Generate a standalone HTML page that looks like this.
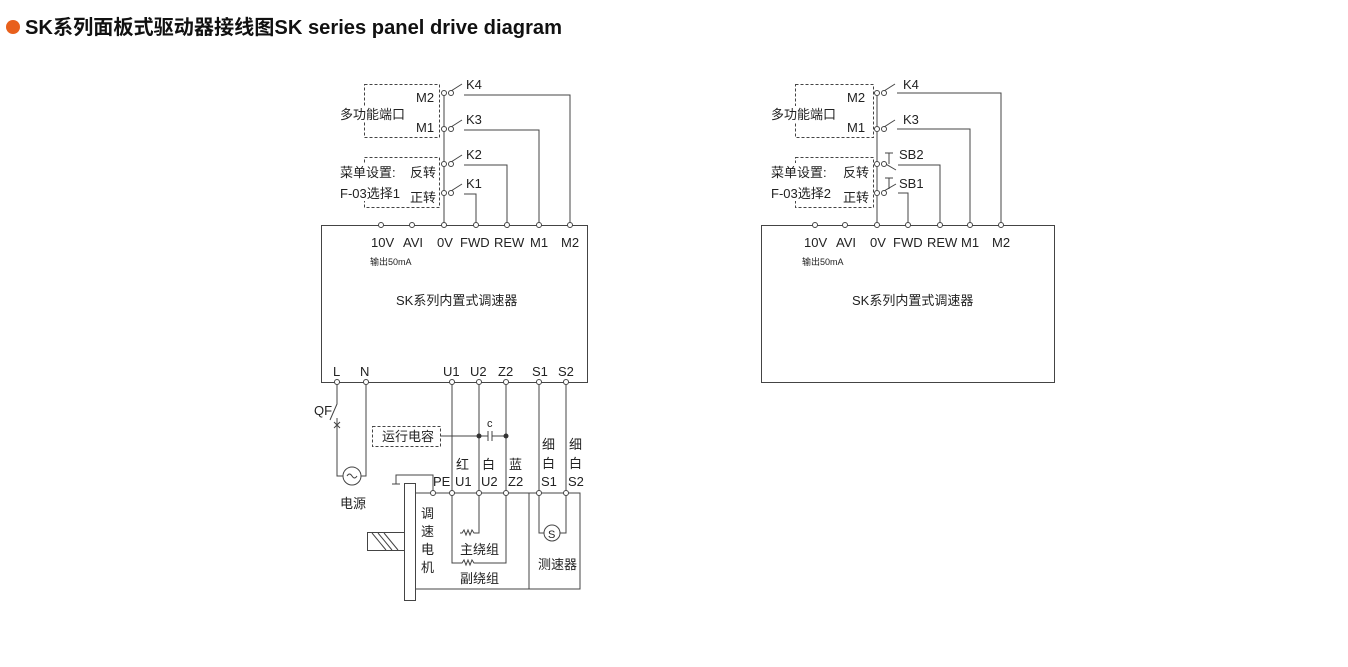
<!DOCTYPE html>
<html><head><meta charset="utf-8"><style>
html,body{margin:0;padding:0;background:#fff;width:1348px;height:667px;overflow:hidden}
svg{display:block}
text{font-family:"Liberation Sans","Noto Sans CJK SC",sans-serif;fill:#222}
.t{font-size:13px}
.s{font-size:9px}
</style></head><body>
<svg width="1348" height="667" viewBox="0 0 1348 667" xmlns="http://www.w3.org/2000/svg">
<circle cx="13" cy="27" r="7" fill="#e8601c"/>
<text x="25" y="34" font-size="20" font-weight="bold" textLength="537" lengthAdjust="spacingAndGlyphs" style="fill:#111">SK系列面板式驱动器接线图SK series panel drive diagram</text>

<g stroke="#444" stroke-width="1" fill="none">
<!-- LEFT -->
<rect x="321.5" y="225.5" width="266" height="157"/>
<path d="M444 225V93"/>
<rect x="364.5" y="84.5" width="75" height="53" stroke-dasharray="3,2"/>
<rect x="364.5" y="157.5" width="75" height="50" stroke-dasharray="3,2"/>
<!-- contacts -->
<path d="M451 91L462 84M464 95H570V225"/>
<path d="M451 127L462 120M464 130H539V225"/>
<path d="M451 162L462 155M464 165H507V225"/>
<path d="M451 191L462 184M464 194H476V225"/>
<!-- bottom -->
<path d="M337 382V404L330 420M337 418V476H343M366 382V476H361"/>
<path d="M334 422l6 6M340 422l-6 6"/>
<circle cx="352" cy="476" r="9"/>
<path d="M347 476q2.5-4 5 0t5 0"/>
<rect x="372.5" y="426.5" width="68" height="20" stroke-dasharray="3,2"/>
<path d="M441 436H488M492 436H506M488 431v10M492 431v10"/>
<path d="M452 382V563H460M479 382V533H475M460 533h2l2-3 2 5 2-5 2 5 2-5 2 3h1"/>
<path d="M506 382V563H475M460 563h2l2-3 2 5 2-5 2 5 2-5 2 3h1"/>
<path d="M539 382V533H544M566 382V533H560"/>
<circle cx="552" cy="533" r="8"/>
<path d="M415 493H580V589H415M529 493V589"/>
<rect x="404.5" y="483.5" width="11" height="117"/>
<rect x="367.5" y="532.5" width="37" height="18"/>
<path d="M372 533l14 17M378 533l14 17M384 533l14 17"/>
<path d="M433 493V475H396V484M392 484h8"/>

<!-- RIGHT -->
<rect x="761.5" y="225.5" width="293" height="157"/>
<path d="M877 225V93"/>
<rect x="795.5" y="84.5" width="78" height="53" stroke-dasharray="3,2"/>
<rect x="795.5" y="157.5" width="78" height="50" stroke-dasharray="3,2"/>
<path d="M884 91L895 84M897 93H1001V225"/>
<path d="M884 127L895 120M897 129H970V225"/>
<path d="M884 163L896 170M889 153v11M885 153h8M898 165H940V225"/>
<path d="M884 191L896 184M889 178v11M885 178h8M898 193H908V225"/>
</g>
<g fill="#fff" stroke="#444" stroke-width="1">
<circle cx="444" cy="93" r="2.5"/><circle cx="451" cy="93" r="2.5"/>
<circle cx="444" cy="129" r="2.5"/><circle cx="451" cy="129" r="2.5"/>
<circle cx="444" cy="164" r="2.5"/><circle cx="451" cy="164" r="2.5"/>
<circle cx="444" cy="193" r="2.5"/><circle cx="451" cy="193" r="2.5"/>
<circle cx="381" cy="225" r="2.5"/><circle cx="412" cy="225" r="2.5"/><circle cx="444" cy="225" r="2.5"/><circle cx="476" cy="225" r="2.5"/><circle cx="507" cy="225" r="2.5"/><circle cx="539" cy="225" r="2.5"/><circle cx="570" cy="225" r="2.5"/>
<circle cx="337" cy="382" r="2.5"/><circle cx="366" cy="382" r="2.5"/><circle cx="452" cy="382" r="2.5"/><circle cx="479" cy="382" r="2.5"/><circle cx="506" cy="382" r="2.5"/><circle cx="539" cy="382" r="2.5"/><circle cx="566" cy="382" r="2.5"/>
<circle cx="433" cy="493" r="2.5"/><circle cx="452" cy="493" r="2.5"/><circle cx="479" cy="493" r="2.5"/><circle cx="506" cy="493" r="2.5"/><circle cx="539" cy="493" r="2.5"/><circle cx="566" cy="493" r="2.5"/>
<circle cx="877" cy="93" r="2.5"/><circle cx="884" cy="93" r="2.5"/>
<circle cx="877" cy="129" r="2.5"/><circle cx="884" cy="129" r="2.5"/>
<circle cx="877" cy="164" r="2.5"/><circle cx="884" cy="164" r="2.5"/>
<circle cx="877" cy="193" r="2.5"/><circle cx="884" cy="193" r="2.5"/>
<circle cx="815" cy="225" r="2.5"/><circle cx="845" cy="225" r="2.5"/><circle cx="877" cy="225" r="2.5"/><circle cx="908" cy="225" r="2.5"/><circle cx="940" cy="225" r="2.5"/><circle cx="970" cy="225" r="2.5"/><circle cx="1001" cy="225" r="2.5"/>
</g>
<g fill="#333"><circle cx="479" cy="436" r="2.5"/><circle cx="506" cy="436" r="2.5"/></g>

<g class="t">
<rect x="338" y="106" width="52" height="16" fill="#fff"/>
<text x="340" y="119">多功能端口</text>
<text x="416" y="102">M2</text><text x="416" y="132">M1</text>
<rect x="338" y="163" width="30" height="38" fill="#fff"/>
<text x="340" y="177">菜单设置:</text><text x="340" y="198">F-03选择1</text>
<text x="410" y="177">反转</text><text x="410" y="202">正转</text>
<text x="466" y="89">K4</text><text x="466" y="124">K3</text><text x="466" y="159">K2</text><text x="466" y="188">K1</text>
<text x="371" y="247">10V</text><text x="403" y="247">AVI</text><text x="437" y="247">0V</text><text x="460" y="247">FWD</text><text x="494" y="247">REW</text><text x="530" y="247">M1</text><text x="561" y="247">M2</text>
<text x="396" y="305">SK系列内置式调速器</text>
<text x="333" y="376">L</text><text x="360" y="376">N</text>
<text x="443" y="376">U1</text><text x="470" y="376">U2</text><text x="498" y="376">Z2</text><text x="532" y="376">S1</text><text x="558" y="376">S2</text>
<text x="314" y="415">QF</text>
<text x="340" y="508">电源</text>
<text x="382" y="441">运行电容</text>
<text x="487" y="427" font-size="11">c</text>
<text x="456" y="469">红</text><text x="482" y="469">白</text><text x="509" y="469">蓝</text>
<text x="433" y="486">PE</text><text x="455" y="486">U1</text><text x="481" y="486">U2</text><text x="508" y="486">Z2</text>
<text x="542" y="449">细</text><text x="542" y="468">白</text><text x="541" y="486">S1</text>
<text x="569" y="449">细</text><text x="569" y="468">白</text><text x="568" y="486">S2</text>
<text x="421" y="518">调</text><text x="421" y="536">速</text><text x="421" y="554">电</text><text x="421" y="572">机</text>
<text x="460" y="554">主绕组</text><text x="460" y="583">副绕组</text>
<text x="538" y="569">测速器</text>
<text x="548" y="538" font-size="11">S</text>

<rect x="769" y="106" width="52" height="16" fill="#fff"/>
<text x="771" y="119">多功能端口</text>
<text x="847" y="102">M2</text><text x="847" y="132">M1</text>
<rect x="769" y="163" width="30" height="38" fill="#fff"/>
<text x="771" y="177">菜单设置:</text><text x="771" y="198">F-03选择2</text>
<text x="843" y="177">反转</text><text x="843" y="202">正转</text>
<text x="903" y="89">K4</text><text x="903" y="124">K3</text><text x="899" y="159">SB2</text><text x="899" y="188">SB1</text>
<text x="804" y="247">10V</text><text x="836" y="247">AVI</text><text x="870" y="247">0V</text><text x="893" y="247">FWD</text><text x="927" y="247">REW</text><text x="961" y="247">M1</text><text x="992" y="247">M2</text>
<text x="852" y="305">SK系列内置式调速器</text>
</g>
<text class="s" x="370" y="265">输出50mA</text>
<text class="s" x="802" y="265">输出50mA</text>
</svg>
</body></html>
